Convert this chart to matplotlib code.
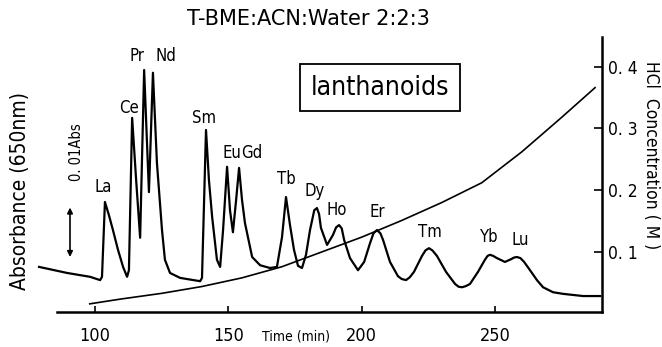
import numpy as np
import matplotlib.pyplot as plt
from matplotlib import font_manager as fm

# chromatogram trace (time in min, absorbance in mAbs above the time axis)
t_abs = [79.0, 89.5, 98.1, 101.9, 102.6, 103.7, 105.2, 106.7, 108.6, 110.5,
         112.0, 112.7, 113.9, 115.4, 116.9, 118.4, 120.2, 121.7, 123.2, 125.1,
         126.2, 128.1, 131.9, 139.4, 140.1, 141.6, 142.7, 143.9, 145.7, 146.9,
         148.0, 149.5, 150.6, 151.7, 152.9, 154.0, 155.1, 156.2, 158.9, 161.9,
         165.6, 168.2, 170.1, 171.6, 173.1, 174.6, 176.1, 177.6, 179.1, 180.6,
         182.2, 183.2, 184.0, 184.7, 187.0, 189.2, 190.4, 191.5, 192.5, 193.4,
         195.6, 198.6, 200.9, 203.1, 204.4, 205.7, 207.0, 208.0, 210.6, 213.6,
         215.0, 216.6, 218.0, 219.6, 222.6, 223.9, 225.2, 226.5, 228.2, 231.6,
         235.0, 236.3, 237.6, 239.0, 240.6, 243.6, 246.2, 247.2, 248.1, 249.3,
         250.7, 253.7, 256.0, 257.1, 258.2, 259.5, 260.9, 263.1, 265.7, 268.0,
         271.7, 275.5, 283.0, 289.4]
absorb = [8.2, 7.1, 6.4, 5.8, 6.4, 20.0, 17.6, 14.9, 11.3, 8.2,
          6.4, 7.6, 35.3, 24.0, 13.5, 44.0, 21.8, 43.5, 27.1, 14.9,
          9.5, 7.1, 6.2, 5.6, 6.2, 33.1, 24.0, 17.3, 9.5, 8.2,
          14.9, 26.4, 18.5, 14.5, 20.4, 26.2, 20.4, 16.2, 10.0, 8.5,
          8.0, 8.2, 13.6, 20.9, 15.8, 11.3, 8.4, 8.0, 10.4, 14.9,
          18.5, 18.9, 17.8, 15.3, 12.2, 14.0, 15.4, 15.8, 15.2, 13.1,
          9.8, 7.6, 9.1, 12.5, 14.3, 14.9, 14.3, 13.1, 9.1, 6.5,
          6.0, 5.8, 6.3, 7.3, 10.2, 11.2, 11.6, 11.2, 10.2, 7.3,
          5.1, 4.6, 4.5, 4.7, 5.1, 7.3, 9.5, 10.2, 10.4, 10.2,
          9.8, 9.1, 9.6, 9.9, 10.0, 9.8, 9.1, 7.6, 5.8, 4.5,
          3.6, 3.3, 2.9, 2.9]

# HCl gradient
t_hcl = [98, 110, 125, 140, 155, 170, 185, 200, 215, 230, 245, 260, 275, 287.5]
hcl = [0.016, 0.024, 0.033, 0.044, 0.058, 0.076, 0.100, 0.124, 0.151, 0.180,
       0.212, 0.262, 0.318, 0.366]

# peak labels
elements = ['La', 'Ce', 'Pr', 'Nd', 'Sm', 'Eu', 'Gd', 'Tb', 'Dy', 'Ho', 'Er', 'Tm', 'Yb', 'Lu']
lab_t = [103.0, 112.6, 115.6, 126.6, 140.7, 151.2, 158.7, 171.6, 182.5, 190.8, 205.7, 225.5, 247.7, 259.3]
lab_a = [22.7, 37.1, 46.5, 46.5, 35.3, 28.9, 28.9, 24.2, 22.0, 18.5, 18.2, 14.5, 13.6, 13.1]

# pick a narrow face if one is installed
names = {(f.name, f.stretch) for f in fm.fontManager.ttflist}
stretch = 'normal'
if any(n == 'Liberation Sans Narrow' for n, s in names):
    narrow = 'Liberation Sans Narrow'
elif ('DejaVu Sans', 'condensed') in names or ('DejaVu Sans', 'semi-condensed') in names:
    narrow, stretch = 'DejaVu Sans', 'condensed'
else:
    narrow = 'Liberation Sans'
nfont = dict(family=narrow, stretch=stretch)

fig = plt.figure(figsize=(6.62, 3.47), dpi=100)
ax = fig.add_axes([30/662, 35/347, 572/662, 275/347])
ax2 = ax.twinx()

ax.plot(t_abs, absorb, color='black', lw=1.6, solid_joinstyle='round', clip_on=False)
ax2.plot(t_hcl, hcl, color='black', lw=1.2)

ax.set_xlim(75.6, 290.1)
ax.set_ylim(0, 50)
ax2.set_ylim(0.0028, 0.448)

for s in ['top', 'left', 'right']:
    ax.spines[s].set_visible(False)
for s in ['top', 'left', 'bottom']:
    ax2.spines[s].set_visible(False)
ax.spines['bottom'].set_bounds(85.75, 290.1)
ax.spines['bottom'].set_linewidth(1.8)
ax2.spines['right'].set_linewidth(1.8)

ax.set_xticks([100, 150, 200, 250])
ax.tick_params(axis='x', direction='in', length=4, width=1.2, pad=11, labelsize=13)
for lab in ax.get_xticklabels():
    lab.set_family(narrow)
    lab.set_stretch(stretch)
ax.set_yticks([])

ax2.set_yticks([0.1, 0.2, 0.3, 0.4])
ax2.set_yticklabels(['0. 1', '0. 2', '0. 3', '0. 4'], fontsize=12.5, **nfont)
ax2.tick_params(axis='y', direction='in', length=6, width=1.2, pad=4)

fig.text(296/662, 1 - 336/347, 'Time (min)', ha='center', va='center',
         fontsize=10, **nfont)
fig.text(20/662, 1 - 191/347, 'Absorbance (650nm)', rotation=90, ha='center', va='center',
         fontsize=15, **nfont)
fig.text(651/662, 1 - 155/347, 'HCl  Concentration ( M )', rotation=270, ha='center',
         va='center', fontsize=12.5, **nfont)
fig.text(308/662, 1 - 19/347, 'T-BME:ACN:Water 2:2:3', ha='center', va='center',
         family='DejaVu Sans', fontsize=15)

for el, x, y in zip(elements, lab_t, lab_a):
    ax.text(x, y, el, ha='center', va='center', fontsize=12, **nfont)

ax.text(0.612, 0.815, 'lanthanoids', transform=ax.transAxes, ha='center', va='center',
        fontsize=19, bbox=dict(boxstyle='square,pad=0.4', fc='white', ec='black', lw=1.3),
        **nfont)

# 0.01 Abs scale bar
ax.annotate('', xy=(90.6, 9.5), xytext=(90.6, 19.5),
            arrowprops=dict(arrowstyle='<|-|>', color='black', lw=1.2, mutation_scale=8))
ax.text(93.0, 29.0, '0. 01Abs', rotation=90, ha='center', va='center',
        fontsize=10.5, **nfont)

fig.savefig('out.png', dpi=100)
